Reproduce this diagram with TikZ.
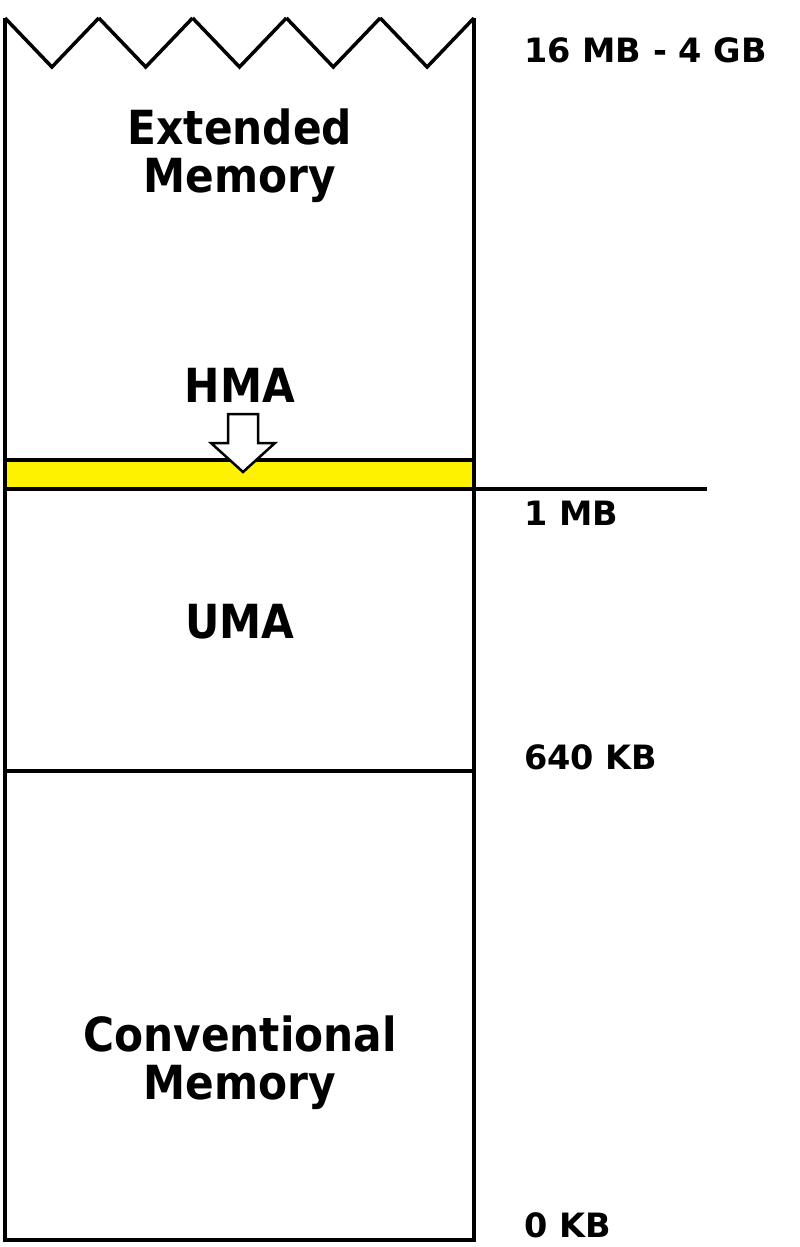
\documentclass[tikz,border=0pt]{standalone}
\usepackage{fontspec}
\setmainfont{DejaVu Sans Condensed}
\newfontfamily\addrfont{DejaVu Sans}

\begin{document}
\begin{tikzpicture}[x=1pt, y=-1pt,
    wall/.style = {line width=3.5pt},
    region/.style = {font=\fontsize{47}{48}\selectfont\bfseries, align=center},
    addr/.style = {font=\addrfont\fontsize{33.5}{34}\selectfont\bfseries, anchor=west, inner sep=0pt}]
            \useasboundingbox (0,0) rectangle (800,1247);

            % Corners
            \coordinate (tl) at (5,18);
            \coordinate (tr) at (474,18);
            \coordinate (bl) at (5,1240);
            \coordinate (br) at (474,1240);
            \coordinate (mbl) at (5,489);
            \coordinate (mbr) at (707,489);
            \coordinate (kbl) at (5,771);
            \coordinate (kbr) at (474,771);

            % HMA band
            \fill[yellow] (5,460) rectangle (474,489);
            \draw[wall] (5,460) -- (474,460);

            % Lines
            \draw[wall] (mbl) -- (mbr);
            \draw[wall] (kbl) -- (kbr);
            \draw[wall, line join=miter] (tl) -- (bl) -- (br) -- (tr);

            % Zigzag top
            \foreach \i in {0,...,4}
                \draw[wall, line join=miter] ({5+93.8*\i},18) -- ({51.9+93.8*\i},67) -- ({98.8+93.8*\i},18);

            % Arrow
            \draw[line width=2.5pt, fill=white, line join=miter]
                (228,414) -- (258,414) -- (258,443) -- (275,443) -- (243,472) -- (211,443) -- (228,443) -- cycle;

            % Nodes
            \node[region] (ext) at (240,156) {Extended\\Memory};
            \node[region] (hma) at (240,385) {HMA};
            \node[region] (uma) at (240,622) {UMA};
            \node[region] (conv) at (240,1063) {Conventional\\Memory};

            \node[addr] (top) at (524,50) {16 MB - 4 GB};
            \node[addr] (onemb) at (524,513) {1 MB};
            \node[addr] (kb640) at (524,757) {640 KB};
            \node[addr] (kb0) at (524,1225) {0 KB};
        \end{tikzpicture}
\end{document}
